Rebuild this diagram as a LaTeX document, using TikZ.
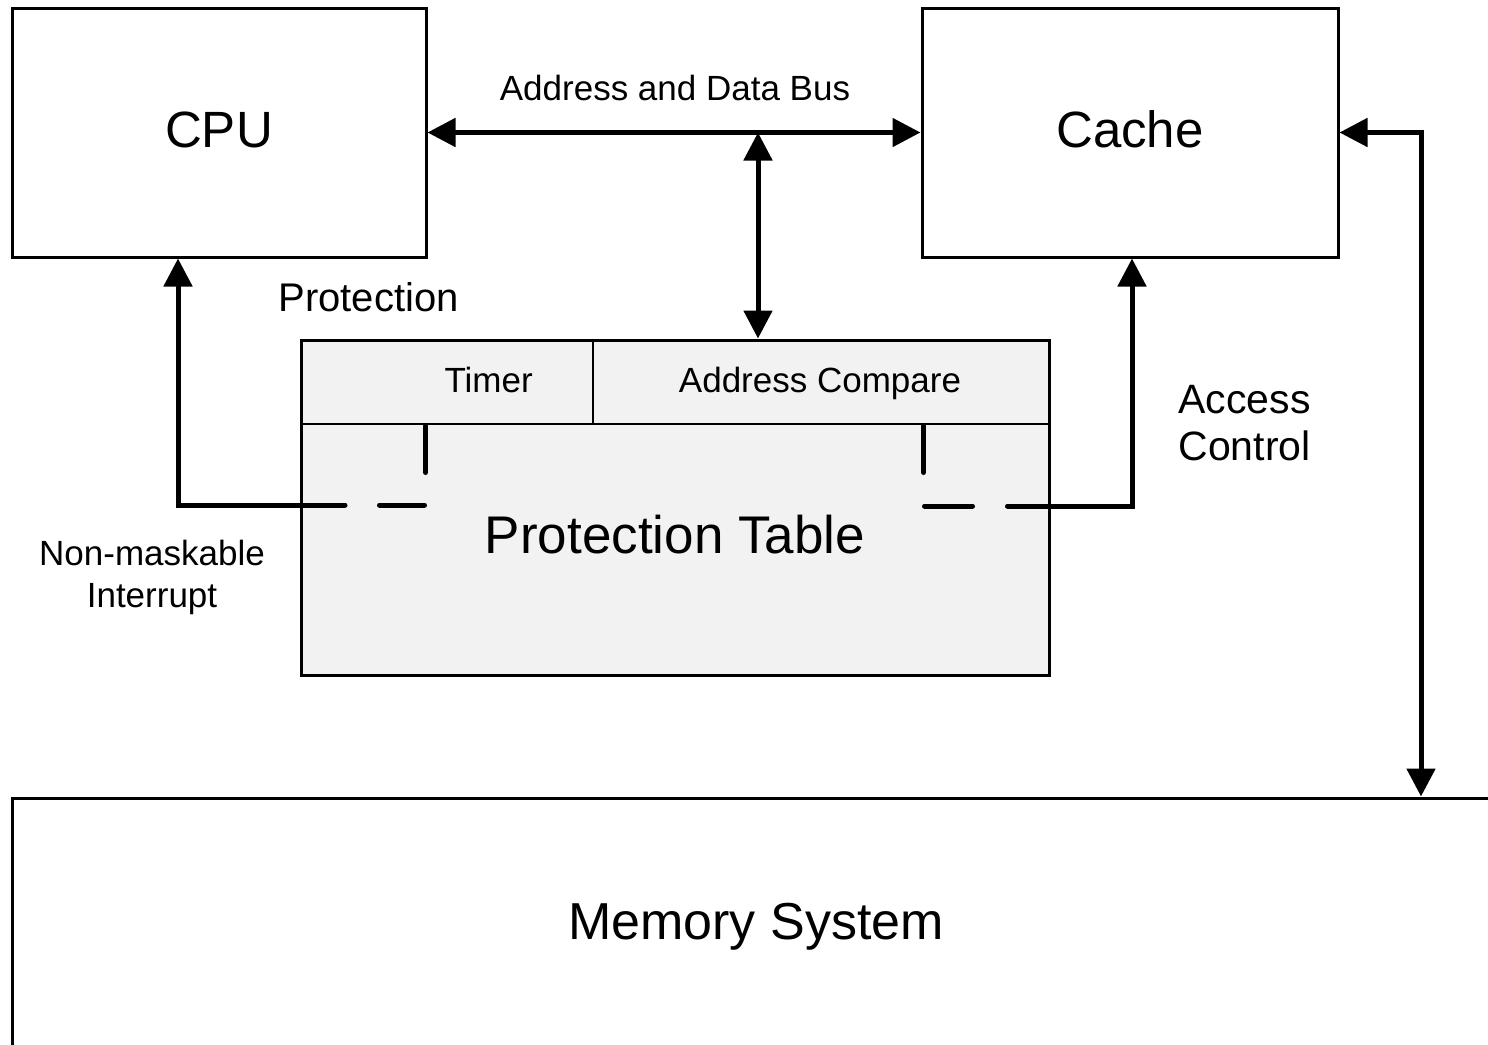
\documentclass[tikz,border=0pt]{standalone}
\usepackage{fontspec}
\setmainfont{Liberation Sans}
\usetikzlibrary{arrows.meta}
\begin{document}
\begin{tikzpicture}[x=1pt,y=-1pt,
  box/.style={draw, line width=3pt, inner sep=0pt},
  conn/.style={line width=5pt, line cap=round},
  tip/.style={-{Triangle[length=28pt,width=28pt]}},
  bitip/.style={{Triangle[length=28pt,width=28pt]}-{Triangle[length=28pt,width=28pt]}},
  big/.style={font=\fontsize{51}{60}\selectfont},
  mid/.style={font=\fontsize{40}{47}\selectfont},
  acc/.style={font=\fontsize{41}{47}\selectfont},
  small/.style={font=\fontsize{35}{42}\selectfont},
]
\path[use as bounding box, fill=white] (0,0) rectangle (1488,1044);

% boxes
\node[box, minimum width=414pt, minimum height=249pt, big, text height=29pt, text depth=0pt] (cpu) at (219,132.5) {CPU};
\node[box, minimum width=416pt, minimum height=249pt, big, text height=29pt, text depth=0pt] (cache) at (1130,132.5) {Cache};
\node[box, fill=gray!10, minimum width=748pt, minimum height=335pt] (pt) at (675,507.5) {};
\begin{scope}
  \clip (0,0) rectangle (1488,1044);
  \node[box, minimum width=1600pt, minimum height=400pt] (mem) at (812,998) {};
\end{scope}

% protection table inner row
\coordinate (rowL) at (301,424);
\coordinate (rowR) at (1049,424);
\coordinate (divT) at (593,340);
\coordinate (divB) at (593,424);
\draw[line width=1.5pt] (rowL) -- (rowR);
\draw[line width=1.5pt] (divT) -- (divB);

% texts
\node[small, anchor=base] (bus) at (675,100) {Address and Data Bus};
\node[mid, anchor=base west] (prot) at (275,311) {Protection};
\node[small, anchor=base west] (timer) at (441,392) {Timer};
\node[small, anchor=base] (addr) at (820,392) {Address Compare};
\node[font=\fontsize{53}{60}\selectfont, anchor=base] (pttext) at (675,553) {Protection Table};
\node[small, anchor=base] (nmi1) at (152,565) {Non-maskable};
\node[small, anchor=base] (nmi2) at (152,607) {Interrupt};
\node[acc, anchor=base west] (ac1) at (1175,413) {Access};
\node[acc, anchor=base west] (ac2) at (1175,460) {Control};
\node[font=\fontsize{52}{60}\selectfont, anchor=base] (memtext) at (756,939) {Memory System};

% bus
\coordinate (busT) at (758,132.5);
\draw[conn, bitip] (cpu.east) -- (cache.west);
\draw[conn, bitip] (busT) -- (busT |- pt.north);

% cache to memory
\coordinate (memT) at (1421,796.5);
\draw[conn, bitip] (cache.east) -| (memT);

% left switch (non-maskable interrupt)
\coordinate (lA) at (345,505);
\coordinate (lTurn) at (178,505);
\draw[conn, tip] (lA) -- (lTurn) -- (lTurn |- cpu.south);
\coordinate (lD1) at (379.5,505);
\coordinate (lD2) at (424.5,505);
\draw[conn] (lD1) -- (lD2);
\coordinate (lV1) at (425.5,426);
\coordinate (lV2) at (425.5,472.5);
\draw[conn] (lV1) -- (lV2);

% right switch (access control)
\coordinate (rA) at (1007.5,506);
\coordinate (rTurn) at (1132,506);
\draw[conn, tip] (rA) -- (rTurn) -- (rTurn |- cache.south);
\coordinate (rD1) at (924.5,506);
\coordinate (rD2) at (972.5,506);
\draw[conn] (rD1) -- (rD2);
\coordinate (rV1) at (923.5,426);
\coordinate (rV2) at (923.5,472.5);
\draw[conn] (rV1) -- (rV2);
\end{tikzpicture}
\end{document}
